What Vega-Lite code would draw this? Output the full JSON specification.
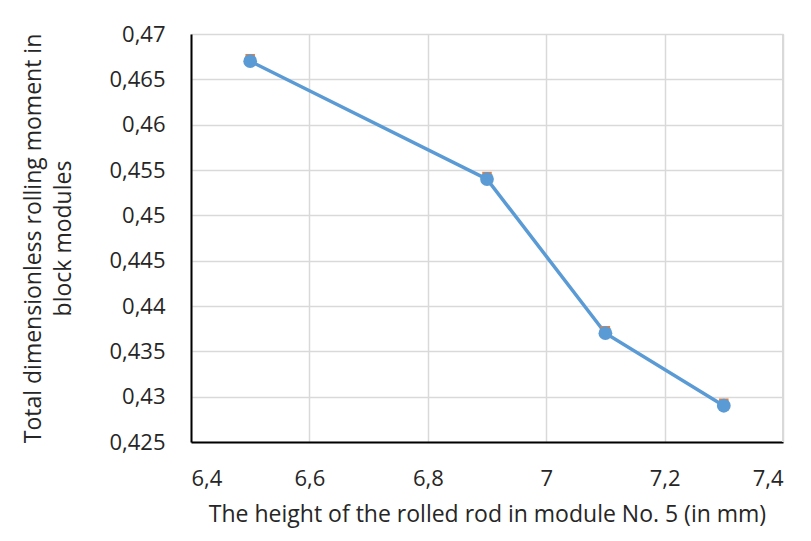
{
  "$schema": "https://vega.github.io/schema/vega-lite/v6.json",
  "width": 592,
  "height": 408,
  "autosize": "none",
  "padding": {"left": 191, "top": 34, "right": 28, "bottom": 99},
  "background": "white",
  "config": {"view": {"stroke": null}},
  "data": {"values": [
    {"h": 6.5, "m": 0.467},
    {"h": 6.9, "m": 0.454},
    {"h": 7.1, "m": 0.437},
    {"h": 7.3, "m": 0.429}
  ]},
  "encoding": {
    "x": {"field": "h", "type": "quantitative",
      "scale": {"domain": [6.4, 7.4], "nice": false, "zero": false},
      "axis": {"values": [6.4, 6.6, 6.8, 7.0, 7.2, 7.4],
        "labelExpr": "replace(format(datum.value, '.1~f'), '.', ',')",
        "title": "The height of the rolled rod in module No. 5 (in mm)",
        "grid": true, "gridColor": "#d9d9d9", "gridWidth": 1.5,
        "domainColor": "#000000", "domainWidth": 2, "ticks": false,
        "labelFont": "Open Sans", "labelFontSize": 22, "labelColor": "#262626", "labelPadding": 26,
        "titleFont": "Open Sans", "titleFontSize": 23, "titleFontWeight": "normal", "titleColor": "#262626", "titlePadding": 14}},
    "y": {"field": "m", "type": "quantitative",
      "scale": {"domain": [0.425, 0.47], "nice": false, "zero": false},
      "axis": {"values": [0.425, 0.43, 0.435, 0.44, 0.445, 0.45, 0.455, 0.46, 0.465, 0.47],
        "labelExpr": "replace(format(datum.value, '.3~f'), '.', ',')",
        "title": ["Total dimensionless rolling moment in", "block modules"],
        "grid": true, "gridColor": "#d9d9d9", "gridWidth": 1.5,
        "domainColor": "#000000", "domainWidth": 2, "ticks": false,
        "labelFont": "Open Sans", "labelFontSize": 22, "labelColor": "#262626", "labelPadding": 26,
        "titleFont": "Open Sans", "titleFontSize": 23, "titleFontWeight": "normal", "titleColor": "#262626", "titlePadding": 33, "titleLineHeight": 30}}
  },
  "layer": [
    {"mark": {"type": "rule", "stroke": "#d9d9d9", "strokeWidth": 1.5}, "encoding": {"x": {"datum": 7.4}, "y": null}},
    {"mark": {"type": "line", "color": "#5b9bd5", "strokeWidth": 3.5}},
    {"mark": {"type": "point", "filled": true, "shape": "square", "color": "#ed7d31", "size": 90, "opacity": 1, "yOffset": -2.5}},
    {"mark": {"type": "point", "filled": true, "shape": "circle", "color": "#5b9bd5", "size": 190, "opacity": 1}}
  ]
}
